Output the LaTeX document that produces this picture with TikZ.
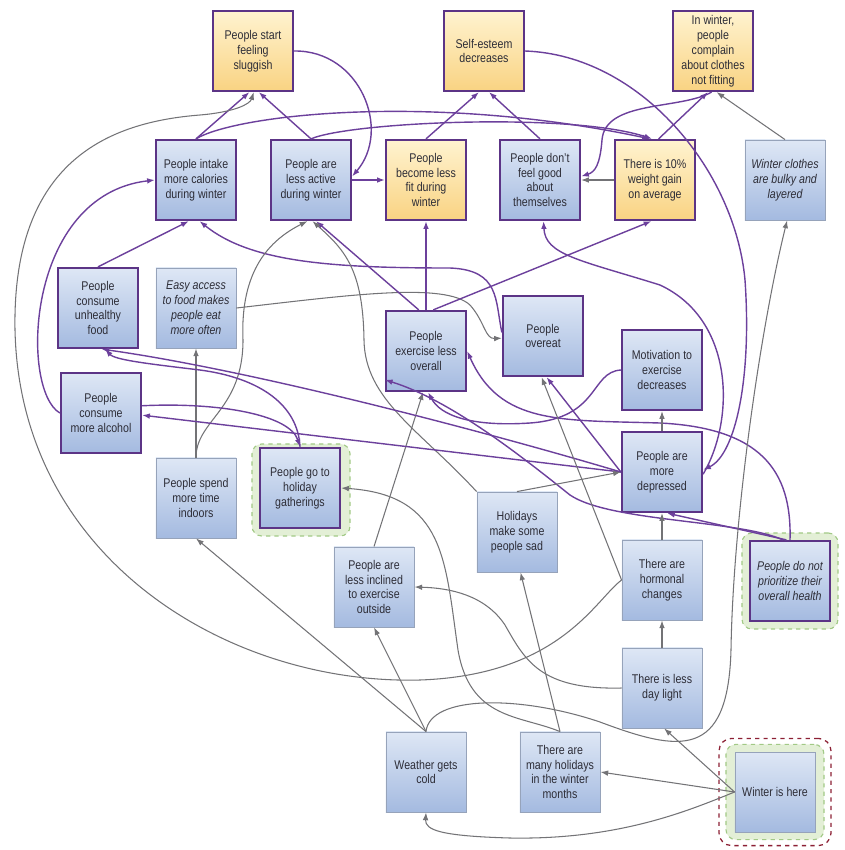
\documentclass[tikz,border=0pt]{standalone}
\usepackage{fontspec}
\setmainfont{Liberation Sans}[FakeStretch=0.84]
\usetikzlibrary{arrows.meta}
\definecolor{purp}{RGB}{92,52,134}
\definecolor{lpurp}{RGB}{108,64,156}
\definecolor{gline}{RGB}{115,115,118}
\definecolor{gbord}{RGB}{150,163,186}
\definecolor{btop}{RGB}{222,231,245}
\definecolor{bbot}{RGB}{164,186,224}
\definecolor{ytop}{RGB}{255,243,208}
\definecolor{ybot}{RGB}{249,211,130}
\definecolor{hfill}{RGB}{227,239,214}
\definecolor{hdraw}{RGB}{162,201,134}
\definecolor{rdash}{RGB}{140,32,52}
\definecolor{txt}{RGB}{45,45,55}
\begin{document}
\begin{tikzpicture}[x=.025cm,y=-.025cm,>={Latex[length=5.5pt,width=4pt]},
   cbox/.style={minimum width=2cm,minimum height=2cm,inner sep=1pt,align=center,text=txt,font=\fontsize{9}{10.6}\selectfont},
   it/.style={font=\fontsize{9}{10.6}\selectfont\itshape},
   keynode/.style={cbox,draw=purp,line width=1.6pt,top color=btop,bottom color=bbot},
   effect/.style={cbox,draw=purp,line width=1.6pt,top color=ytop,bottom color=ybot},
   factor/.style={cbox,draw=gbord,line width=.6pt,top color=btop,bottom color=bbot},
   halo/.style={draw=hdraw,dashed,line width=.8pt,fill=hfill,rounded corners=7pt},
   pl/.style={->,draw=lpurp,line width=1pt},
   gl/.style={->,draw=gline,line width=.75pt}]
   \useasboundingbox (0,0) rectangle (844,850);
   \node[halo,minimum width=2.45cm,minimum height=2.3cm] (partyh) at (301,490) {};
   \node[halo,minimum width=2.4cm,minimum height=2.4cm] (prioh) at (790,581) {};
   \node[draw=rdash,dashed,line width=.9pt,rounded corners=9pt,minimum width=2.8cm,minimum height=2.68cm] (winterr) at (775,792) {};
   \node[halo,minimum width=2.45cm,minimum height=2.38cm] (winterh) at (775,792) {};
   \node[effect] (slug) at (253,51) {People start\\feeling\\sluggish};
   \node[effect] (self) at (484,51) {Self-esteem\\decreases};
   \node[effect] (cloth) at (713,51) {In winter,\\people\\complain\\about clothes\\not fitting};
   \node[keynode] (cal) at (196,180) {People intake\\more calories\\during winter};
   \node[keynode] (act) at (311,180) {People are\\less active\\during winter};
   \node[effect] (fit) at (426,180) {People\\become less\\fit during\\winter};
   \node[keynode] (feel) at (540,180) {People don't\\feel good\\about\\themselves};
   \node[effect] (gain) at (655,180) {There is 10\%\\weight gain\\on average};
   \node[factor,it] (bulky) at (785,180) {Winter clothes\\are bulky and\\layered};
   \node[keynode] (junk) at (98,308) {People\\consume\\unhealthy\\food};
   \node[factor,it] (easy) at (196,308) {Easy access\\to food makes\\people eat\\more often};
   \node[keynode] (exer) at (426,351) {People\\exercise less\\overall};
   \node[keynode] (over) at (543,336) {People\\overeat};
   \node[keynode] (motiv) at (662,370) {Motivation to\\exercise\\decreases};
   \node[keynode] (alc) at (101,413) {People\\consume\\more alcohol};
   \node[keynode] (depr) at (662,472) {People are\\more\\depressed};
   \node[factor] (indoor) at (196,498) {People spend\\more time\\indoors};
   \node[keynode] (party) at (300,488) {People go to\\holiday\\gatherings};
   \node[factor] (sad) at (517,532) {Holidays\\make some\\people sad};
   \node[factor] (outside) at (374,587) {People are\\less inclined\\to exercise\\outside};
   \node[factor] (horm) at (662,580) {There are\\hormonal\\changes};
   \node[keynode,it] (prio) at (790,581) {People do not\\prioritize their\\overall health};
   \node[factor] (light) at (662,688) {There is less\\day light};
   \node[factor] (cold) at (426,772) {Weather gets\\cold};
   \node[factor] (hol) at (560,772) {There are\\many holidays\\in the winter\\months};
   \node[factor] (winter) at (775,792) {Winter is here};
   \draw[pl] (cal.north) -- (slug.265);
   \draw[pl] (act.north) -- (slug.278);
   \draw[gl] (horm.west) .. controls (595,600) and (560,675) .. (420,680) .. controls (230,685) and (20,560) .. (15,330) .. controls (12,160) and (110,122) .. (200,115) .. controls (235,112) and (250,104) .. (slug.271);
   \draw[pl] (slug.east) .. controls (360,50) and (392,130) .. (act.5);
   \draw[pl] (act.east) -- (fit.west);
   \draw[pl] (cal.north) .. controls (235,115) and (430,92) .. (gain.97);
   \draw[pl] (act.north) .. controls (350,122) and (570,112) .. (gain.94);
   \draw[pl] (alc.west) .. controls (20,390) and (25,195) .. (cal.west);
   \draw[pl] (junk.north) -- (cal.260);
   \draw[pl] (over.175) .. controls (495,300) and (500,270) .. (450,268) .. controls (330,268) and (250,262) .. (cal.275);
   \draw[gl] (easy.east) .. controls (350,295) and (445,282) .. (470,305) .. controls (485,322) and (485,339) .. (over.183);
   \draw[gl] (indoor.north) -- (easy.south);
   \draw[gl] (indoor.north) .. controls (196,420) and (243,410) .. (243,340) .. controls (240,270) and (270,240) .. (act.265);
   \draw[pl] (exer.100) -- (act.277);
   \draw[pl] (exer.north) -- (fit.south);
   \draw[pl] (exer.80) -- (gain.265);
   \draw[gl] (sad.135) .. controls (420,430) and (365,400) .. (364,340) .. controls (363,270) and (345,250) .. (act.272);
   \draw[gl] (outside.north) -- (exer.266);
   \draw[pl] (motiv.west) .. controls (590,372) and (600,418) .. (530,423) .. controls (470,427) and (440,415) .. (exer.273);
   \draw[pl] (prio.north) .. controls (792,470) and (760,428) .. (660,423) .. controls (560,420) and (500,425) .. (exer.east);
   \draw[pl] (prio.95) -- (depr.277);
   \draw[pl] (prio.100) .. controls (740,520) and (610,522) .. (570,495) .. controls (520,455) and (450,400) .. (exer.215);
   \draw[gl] (depr.north) -- (motiv.south);
   \draw[pl] (depr.west) -- (over.275);
   \draw[pl] (depr.west) .. controls (480,430) and (250,370) .. (junk.275);
   \draw[pl] (depr.west) -- (alc.357);
   \draw[gl] (sad.north) -- (depr.west);
   \draw[pl] (self.east) .. controls (640,55) and (735,170) .. (745,280) .. controls (752,380) and (735,455) .. (depr.3);
   \draw[pl] (depr.357) .. controls (735,420) and (735,320) .. (660,285) .. controls (580,260) and (545,255) .. (feel.275);
   \draw[pl] (fit.north) -- (self.263);
   \draw[pl] (feel.north) -- (self.277);
   \draw[gl] (gain.west) -- (feel.east);
   \draw[pl] (gain.85) -- (cloth.263);
   \draw[pl] (cloth.268) .. controls (680,110) and (605,100) .. (602,140) .. controls (600,165) and (595,172) .. (feel.5);
   \draw[gl] (bulky.north) -- (cloth.275);
   \draw[gl] (cold.north) .. controls (430,695) and (520,695) .. (600,722) .. controls (680,752) and (728,760) .. (731,650) .. controls (733,520) and (760,330) .. (bulky.273);
   \draw[gl] (cold.north) -- (indoor.south);
   \draw[gl] (cold.north) -- (outside.south);
   \draw[gl] (light.north) -- (horm.south);
   \draw[gl] (horm.north) -- (depr.south);
   \draw[gl] (horm.west) -- (over.268);
   \draw[gl] (light.west) .. controls (540,690) and (525,660) .. (505,625) .. controls (485,595) and (450,588) .. (outside.east);
   \draw[gl] (hol.north) -- (sad.275);
   \draw[gl] (hol.north) .. controls (520,715) and (470,720) .. (458,650) .. controls (445,560) and (445,495) .. (party.east);
   \draw[gl] (winter.west) -- (hol.east);
   \draw[gl] (winter.west) -- (light.273);
   \draw[gl] (winter.west) .. controls (690,810) and (620,840) .. (510,838) .. controls (440,836) and (425,830) .. (cold.south);
   \draw[pl] (party.north) .. controls (298,405) and (260,378) .. (200,370) .. controls (150,364) and (115,360) .. (junk.280);
   \draw[pl] (alc.10) .. controls (220,402) and (290,415) .. (party.north);
\end{tikzpicture}
\end{document}
